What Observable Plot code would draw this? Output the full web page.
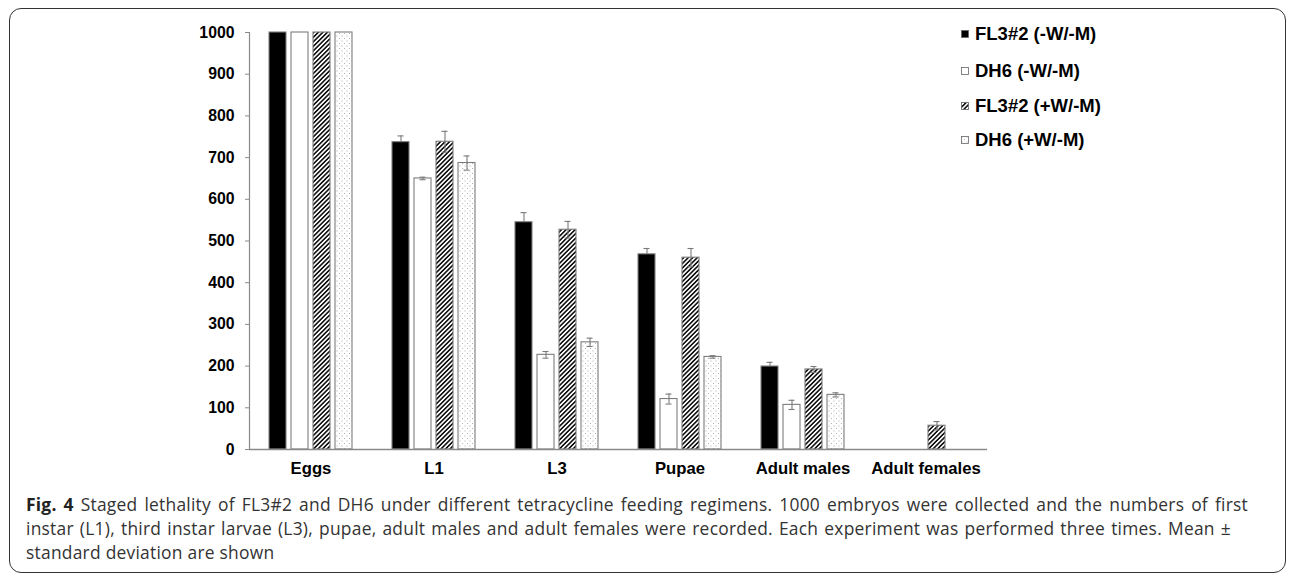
<!DOCTYPE html>
<html>
<head>
<meta charset="utf-8">
<script src="https://cdn.jsdelivr.net/npm/d3@7"></script>
<script src="https://cdn.jsdelivr.net/npm/@observablehq/plot@0.6"></script>
<style>
  html, body { margin: 0; padding: 0; background: #fff; }
  #fig { position: relative; width: 1290px; height: 576px; overflow: hidden; }
  #box { position: absolute; left: 9px; top: 8px; width: 1277px; height: 565px;
         border: 1.6px solid #333; border-radius: 12px; box-sizing: border-box; }
  #chart { position: absolute; left: 0; top: 0; }
  #legend { position: absolute; left: 961px; top: 22px; font-family: "Liberation Sans", Arial, sans-serif;
            font-weight: bold; font-size: 18.5px; color: #000; }
  #legend .row { position: absolute; left: 0; height: 24px; display: flex; align-items: center; white-space: nowrap; }
  #legend svg { margin-right: 6px; }
  #caption { position: absolute; left: 26px; top: 492px; font-family: "Open Sans", sans-serif;
             font-size: 17.4px; line-height: 24px; color: #333; letter-spacing: 0.25px; }
  #caption .line { display: block; white-space: nowrap; }
  #caption .fit { text-align: justify; text-align-last: justify; white-space: normal; }
  #caption b { font-weight: bold; color: #222; }
</style>
</head>
<body>
<!-- shared fill patterns for bars and legend swatches -->
<svg width="0" height="0" style="position:absolute">
  <defs>
    <pattern id="hatch" patternUnits="userSpaceOnUse" width="3.2" height="3.2" patternTransform="rotate(45)">
      <rect width="3.2" height="3.2" fill="#fff"></rect>
      <rect width="1.6" height="3.2" fill="#111"></rect>
    </pattern>
    <pattern id="dots" patternUnits="userSpaceOnUse" width="5" height="5">
      <rect width="5" height="5" fill="#fff"></rect>
      <rect x="0.5" y="0.5" width="1" height="1" fill="#b0b0b0"></rect>
      <rect x="3" y="3" width="1" height="1" fill="#b0b0b0"></rect>
    </pattern>
  </defs>
</svg>
<div id="fig">
  <div id="box"></div>
  <div id="chart"></div>
  <div id="legend"></div>
  <div id="caption"></div>
</div>
<script>
// Developmental stages on the x axis
const stages = ["Eggs", "L1", "L3", "Pupae", "Adult males", "Adult females"];
// Strain / feeding regimen series
const series = ["FL3#2 (-W/-M)", "DH6 (-W/-M)", "FL3#2 (+W/-M)", "DH6 (+W/-M)"];

// Mean counts per stage, one array per series
const fl3NoTet   = [1000, 737, 545, 468, 199, 0];
const dh6NoTet   = [1000, 650, 227, 121, 107, 0];
const fl3Tet     = [1000, 738, 527, 460, 192, 57];
const dh6Tet     = [1000, 687, 257, 222, 131, 0];

// Standard deviations per stage
const fl3NoTetSd = [0, 15, 23, 14, 10, 0];
const dh6NoTetSd = [0, 3, 8, 12, 11, 0];
const fl3TetSd   = [0, 25, 20, 22, 7, 10];
const dh6TetSd   = [0, 17, 10, 3, 5, 0];

// y axis ticks
const yTicks = [0, 100, 200, 300, 400, 500, 600, 700, 800, 900, 1000];

const means = [fl3NoTet, dh6NoTet, fl3Tet, dh6Tet];
const sds = [fl3NoTetSd, dh6NoTetSd, fl3TetSd, dh6TetSd];

// long table built from the arrays above
const rows = [];
series.forEach((s, i) => stages.forEach((st, j) => {
  rows.push({stage: st, series: s, value: means[i][j], sd: sds[i][j]});
}));
const barsData = rows.filter(d => d.value > 0);
const errData = rows.filter(d => d.sd > 0);
// lower whiskers are hidden inside solid black bars
const errLower = errData.filter(d => d.series !== series[0]);

const fills = ["#000", "#fff", "url(#hatch)", "url(#dots)"];
const errColor = "#7a7a7a";

const chart = Plot.plot({
  width: 1000,
  height: 490,
  marginLeft: 248,
  marginRight: 13,
  marginTop: 32,
  marginBottom: 41,
  style: {fontFamily: "'Liberation Sans', Arial, sans-serif", fontWeight: "bold", fontSize: "15.5px", color: "#000", background: "transparent"},
  fx: {domain: stages, padding: 0, label: null},
  x: {domain: series, paddingInner: 0.22, paddingOuter: 0.85, axis: null},
  y: {domain: [0, 1000], label: null},
  color: {domain: series, range: fills},
  marks: [
    Plot.barY(barsData, {fx: "stage", x: "series", y: "value", fill: "series", stroke: "#7d7d7d", strokeWidth: 1.1}),
    Plot.ruleX(errData, {fx: "stage", x: "series", y1: "value", y2: d => d.value + d.sd, stroke: errColor, strokeWidth: 1.1}),
    Plot.ruleX(errLower, {fx: "stage", x: "series", y1: d => d.value - d.sd, y2: "value", stroke: errColor, strokeWidth: 1.1}),
    Plot.tickY(errData, {fx: "stage", x: "series", y: d => d.value + d.sd, stroke: errColor, strokeWidth: 1.1, insetLeft: 5.5, insetRight: 5.5}),
    Plot.tickY(errLower, {fx: "stage", x: "series", y: d => d.value - d.sd, stroke: errColor, strokeWidth: 1.1, insetLeft: 5.5, insetRight: 5.5}),
    Plot.ruleY([0], {stroke: "#8a8a8a", strokeWidth: 1.5}),
    Plot.frame({anchor: "left", facetAnchor: "left", stroke: "#8a8a8a", strokeWidth: 1.2}),
    Plot.axisY({ticks: yTicks, tickSize: 4, tickPadding: 11, stroke: "#8a8a8a", fill: "#000", fontSize: "15.8px", label: null, tickFormat: d => String(d)}),
    Plot.axisFx({anchor: "bottom", tickSize: 0, tickPadding: 13, fontSize: "16.7px", fill: "#000", label: null})
  ]
});
document.getElementById("chart").appendChild(chart);

// legend
const legend = d3.select("#legend");
series.forEach((s, i) => {
  const row = legend.append("div").attr("class", "row").style("top", `${[0, 37, 72, 106][i]}px`);
  const sw = row.append("svg").attr("width", 8).attr("height", 8);
  sw.append("rect").attr("x", 0.5).attr("y", 0.5).attr("width", 7).attr("height", 7)
    .attr("fill", fills[i]).attr("stroke", "#666").attr("stroke-width", 0.8);
  row.append("span").text(s);
});

// caption, first two lines set to the full text block width
document.getElementById("caption").innerHTML =
  "<span class='line fit' style='width:1222px'><b>Fig. 4</b> Staged lethality of FL3#2 and DH6 under different tetracycline feeding regimens. 1000 embryos were collected and the numbers of first</span>" +
  "<span class='line fit' style='width:1205px'>instar (L1), third instar larvae (L3), pupae, adult males and adult females were recorded. Each experiment was performed three times. Mean ±</span>" +
  "<span class='line'>standard deviation are shown</span>";
</script>
</body>
</html>
